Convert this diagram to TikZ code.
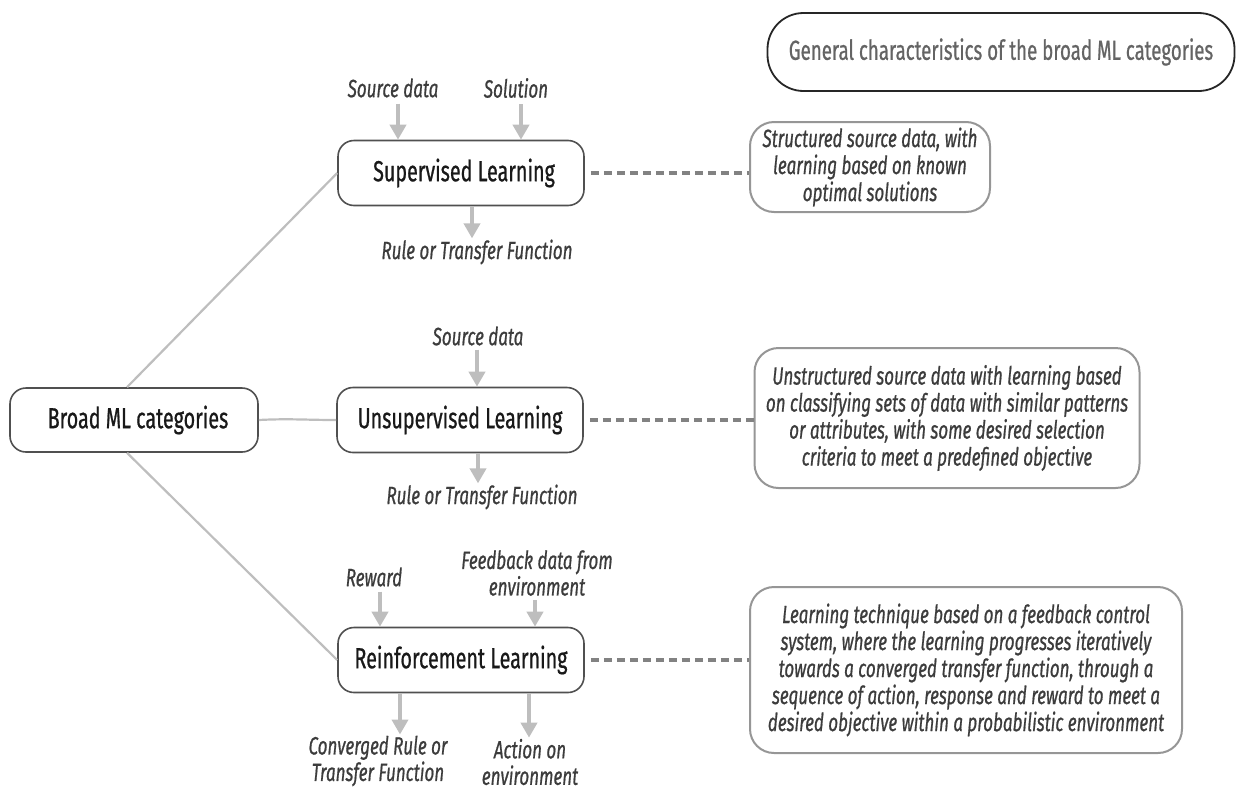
\documentclass[tikz,border=0pt]{standalone}
\usepackage{fontspec}
\setmainfont{Fira Sans}[FakeStretch=0.68, FakeBold=0.7]
\usetikzlibrary{arrows.meta}
\definecolor{boxline}{RGB}{80,80,80}
\definecolor{descline}{RGB}{150,150,150}
\definecolor{feedgray}{RGB}{190,190,190}
\definecolor{dashgray}{RGB}{130,130,130}
\definecolor{labtext}{RGB}{60,60,60}
\definecolor{titletext}{RGB}{100,100,100}
\tikzset{
  x=1pt, y=-1pt,
  catbox/.style={draw=boxline, line width=1.6pt, rounded corners=16pt, fill=white,
    minimum width=246pt, minimum height=65pt, inner sep=0pt,
    font=\fontsize{29}{34}\selectfont, text=black!90},
  descbox/.style={draw=descline, line width=2pt, rounded corners=24pt, fill=white,
    inner sep=0pt, align=center, text=labtext,
    font=\itshape\fontsize{25}{27}\selectfont},
  lab/.style={inner sep=0pt, align=center, text=labtext,
    font=\itshape\fontsize{25}{26.5}\selectfont},
  feed/.style={draw=feedgray, line width=4pt, -{Triangle[width=16pt,length=15pt]}},
  link/.style={draw=feedgray, line width=2.2pt},
  dashlink/.style={draw=dashgray, line width=3.5pt, dash pattern=on 8pt off 5pt},
}
\begin{document}
\begin{tikzpicture}
\useasboundingbox (0,0) rectangle (1241,790);

% title
\node[draw=black!85, line width=1.8pt, rounded corners=36pt, minimum width=467pt,
  minimum height=78pt, inner sep=0pt, text=titletext,
  font=\fontsize{27.5}{32}\selectfont] (title) at (1001,52)
  {General characteristics of the broad ML categories};

% category boxes
\node[catbox, minimum width=248pt, minimum height=64pt] (broad) at (134,420) {\hspace*{8pt}Broad ML categories};
\node[catbox] (sup) at (461,173) {\hspace*{6pt}Supervised Learning};
\node[catbox] (uns) at (460,420) {Unsupervised Learning};
\node[catbox] (rein) at (461,660) {Reinforcement Learning};

% description boxes
\node[descbox, minimum width=240pt, minimum height=90pt] (d1) at (870,167)
  {Structured source data, with\\learning based on known\\optimal solutions};
\node[descbox, minimum width=385pt, minimum height=140pt] (d2) at (947,418)
  {Unstructured source data with learning based\\on classifying sets of data with similar patterns\\or attributes, with some desired selection\\criteria to meet a predefined objective};
\node[descbox, minimum width=432pt, minimum height=166pt] (d3) at (966,670)
  {Learning technique based on a feedback control\\system, where the learning progresses iteratively\\towards a converged transfer function, through a\\sequence of action, response and reward to meet a\\desired objective within a probabilistic environment};

% inputs and outputs
\node[lab] (supsrc) at (393,88) {Source data};
\node[lab] (supsol) at (516,88) {Solution};
\node[lab] (suprule) at (477,252) {Rule or Transfer Function};
\node[lab] (unssrc) at (478,336) {Source data};
\node[lab] (unsrule) at (482,497) {Rule or Transfer Function};
\node[lab] (reward) at (374,577) {Reward};
\node[lab] (feedback) at (537,573) {Feedback data from\\environment};
\node[lab] (conv) at (378,761) {Converged Rule or\\Transfer Function};
\node[lab] (action) at (530,762) {Action on\\environment};

% arrows into and out of the boxes
\draw[feed] ([xshift=5pt,yshift=-6pt]supsrc.south) -- ([xshift=5pt]supsrc.south |- sup.north);
\draw[feed] ([xshift=5pt,yshift=-6pt]supsol.south) -- ([xshift=5pt]supsol.south |- sup.north);
\draw[feed] ([xshift=-5pt]suprule.north |- sup.south) -- ([xshift=-5pt,yshift=1pt]suprule.north);
\draw[feed] ([xshift=-1pt,yshift=-4pt]unssrc.south) -- ([xshift=-1pt]unssrc.south |- uns.north);
\draw[feed] ([xshift=-4pt]unsrule.north |- uns.south) -- ([xshift=-4pt,yshift=1pt]unsrule.north);
\draw[feed] ([xshift=6pt,yshift=-5pt]reward.south) -- ([xshift=6pt]reward.south |- rein.north);
\draw[feed] ([xshift=-2pt,yshift=-4pt]feedback.south) -- ([xshift=-2pt]feedback.south |- rein.north);
\draw[feed] ([xshift=22pt]conv.north |- rein.south) -- ([xshift=22pt,yshift=1pt]conv.north);
\draw[feed] ([xshift=-1pt]action.north |- rein.south) -- ([xshift=-1pt,yshift=1pt]action.north);

% links from the root box
\draw[link] ([xshift=-7pt]broad.north) -- (sup.west);
\draw[link] (broad.east) to[out=3,in=180] (uns.west);
\draw[link] ([xshift=-7pt]broad.south) -- (rein.west);

% dashed links to the descriptions
\draw[dashlink] ([xshift=6pt]sup.east) -- (sup.east -| d1.west);
\draw[dashlink] ([xshift=6pt]uns.east) -- (uns.east -| d2.west);
\draw[dashlink] ([xshift=6pt]rein.east) -- (rein.east -| d3.west);
\end{tikzpicture}
\end{document}
